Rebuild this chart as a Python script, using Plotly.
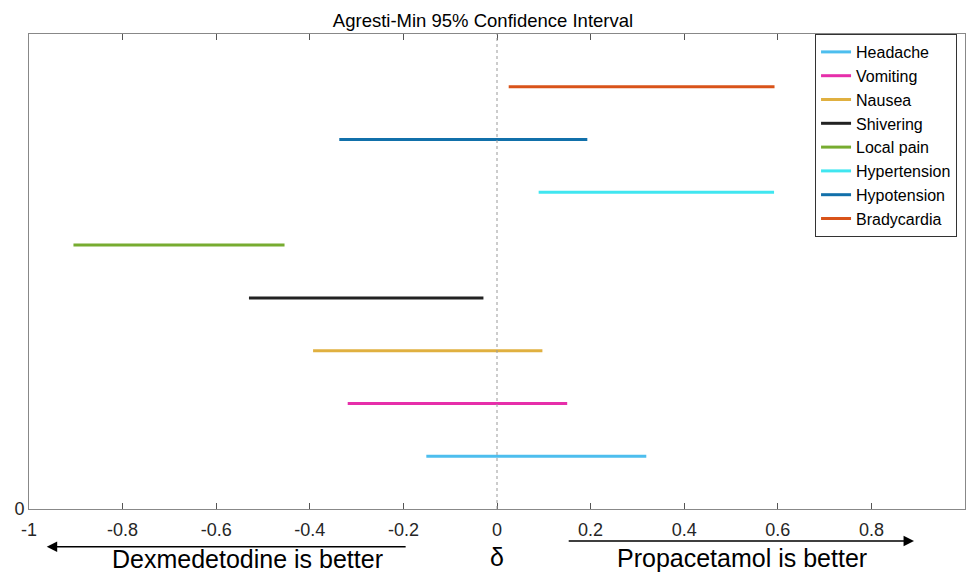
import plotly.graph_objects as go

categories = ["Headache", "Vomiting", "Nausea", "Shivering", "Local pain",
              "Hypertension", "Hypotension", "Bradycardia"]
lower = [-0.151, -0.319, -0.393, -0.530, -0.905, 0.089, -0.337, 0.025]
upper = [0.319, 0.150, 0.097, -0.029, -0.454, 0.592, 0.193, 0.593]
row = [1, 2, 3, 4, 5, 6, 7, 8]
colors = ["#4DBEEE", "#E62FAA", "#E0B040", "#222222", "#77AC30",
          "#40E6F0", "#1170AA", "#D95319"]
xticks = [-1, -0.8, -0.6, -0.4, -0.2, 0, 0.2, 0.4, 0.6, 0.8, 1]
xticklabels = ["-1", "-0.8", "-0.6", "-0.4", "-0.2", "0", "0.2", "0.4", "0.6", "0.8", "1"]

FONT = "Arial, Liberation Sans, sans-serif"

fig = go.Figure()
for c, lo, hi, r, col in zip(categories, lower, upper, row, colors):
    fig.add_trace(go.Scatter(x=[lo, hi], y=[r, r], mode="lines", name=c,
                             line=dict(color=col, width=3)))

fig.add_shape(type="line", x0=0, x1=0, y0=0, y1=9, xref="x", yref="y",
              line=dict(color="#999999", width=1, dash="dot"))

# arrows
fig.add_annotation(x=-0.962, y=-0.0794, ax=-0.192, ay=0, xref="x", yref="paper",
                   axref="x", ayref="pixel", showarrow=True, arrowhead=2,
                   arrowsize=1.3, arrowwidth=1.6, arrowcolor="black", text="")
fig.add_annotation(x=0.891, y=-0.0674, ax=0.15, ay=0, xref="x", yref="paper",
                   axref="x", ayref="pixel", showarrow=True, arrowhead=2,
                   arrowsize=1.3, arrowwidth=1.6, arrowcolor="black", text="")
fig.add_annotation(x=-0.534, y=-0.1045, xref="x", yref="paper", text="Dexmedetodine is better",
                   showarrow=False, yanchor="middle", font=dict(size=25, color="black", family=FONT))
fig.add_annotation(x=0.524, y=-0.1025, xref="x", yref="paper", text="Propacetamol is better",
                   showarrow=False, yanchor="middle", font=dict(size=25, color="black", family=FONT))
fig.add_annotation(x=0, y=-0.101, xref="x", yref="paper", text="δ",
                   showarrow=False, yanchor="middle", font=dict(size=25, color="black", family=FONT))

fig.update_layout(
    width=966, height=572,
    margin=dict(l=29, r=1, t=34, b=63, autoexpand=False),
    paper_bgcolor="white", plot_bgcolor="white",
    font=dict(family=FONT, color="#262626"),
    title=dict(text="Agresti-Min 95% Confidence Interval", x=0.5, xanchor="center",
               y=0.964, yanchor="middle", font=dict(size=18.5, color="black", family=FONT)),
    showlegend=True,
    legend=dict(x=0.9915, y=1, xanchor="right", yanchor="top",
                bordercolor="#333333", borderwidth=1, bgcolor="white",
                font=dict(size=16, color="black", family=FONT),
                tracegroupgap=0, itemwidth=30),
    xaxis=dict(range=[-1, 1], tickvals=xticks, ticktext=xticklabels,
               ticks="inside", ticklen=6, tickcolor="#555555", mirror="allticks",
               showline=True, linecolor="#888888", linewidth=1, showgrid=False,
               zeroline=False, ticklabelstandoff=4,
               tickfont=dict(size=18, color="#262626")),
    yaxis=dict(range=[0, 9], tickvals=[0], ticktext=["0"], ticks="",
               showline=True, linecolor="#888888", linewidth=1, mirror=True,
               showgrid=False, zeroline=False, tickfont=dict(size=18, color="#262626")),
)

fig.write_html("out.html", config={"displayModeBar": False},
               post_script="document.body.style.margin='0';document.body.style.overflow='hidden';")
